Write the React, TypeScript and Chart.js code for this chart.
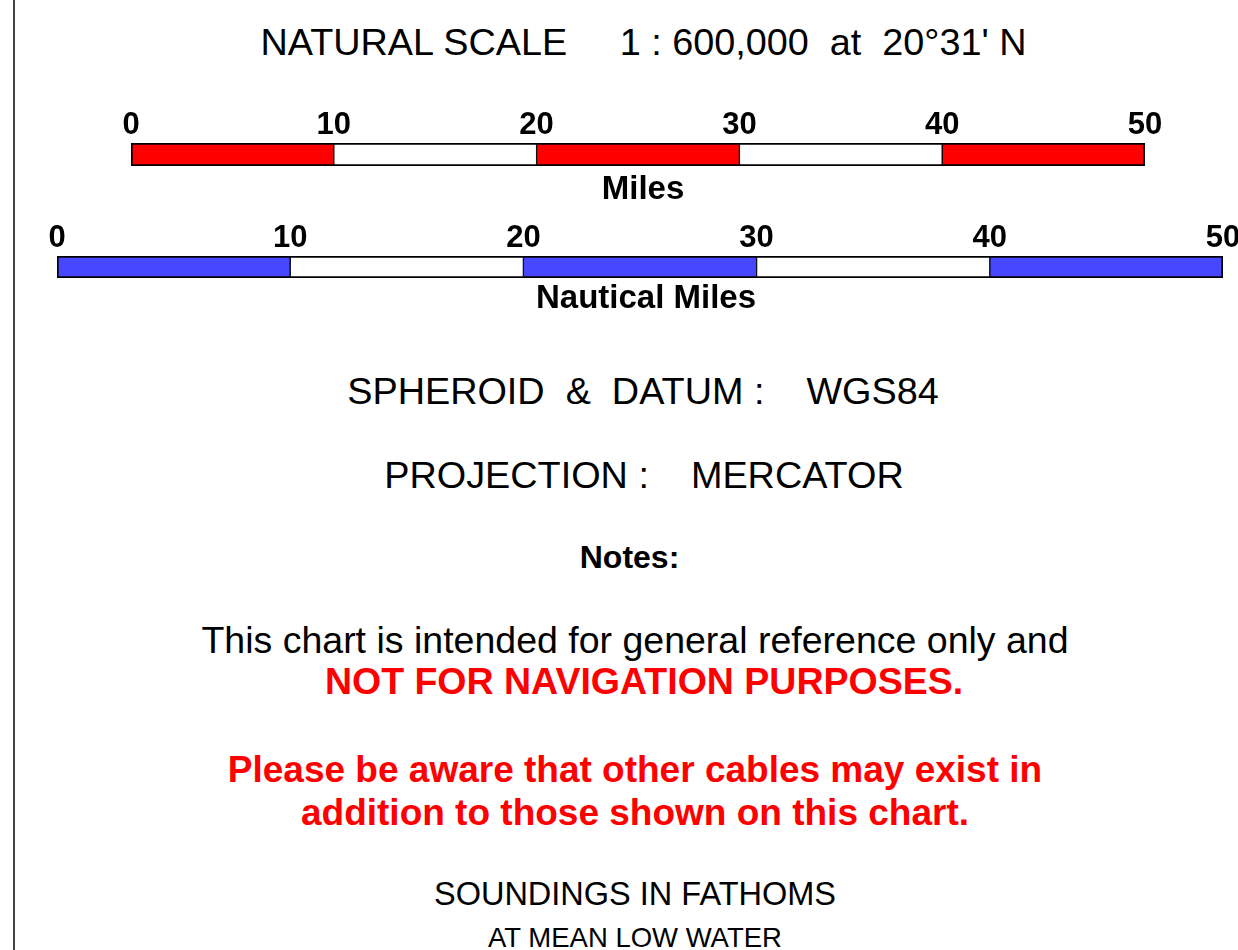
import React, { useEffect, useRef } from "react";
import { Chart, registerables } from "chart.js";

Chart.register(...registerables);

const FONT = '"Liberation Sans", Arial, Helvetica, sans-serif';

// ---- data ----
const scaleTitle = "NATURAL SCALE     1 : 600,000  at  20°31' N";
const mileTicks = [0, 10, 20, 30, 40, 50];
const mileSegments = [10, 10, 10, 10, 10];
const mileColors = ["#ff0000", "#ffffff", "#ff0000", "#ffffff", "#ff0000"];
const nauticalTicks = [0, 10, 20, 30, 40, 50];
const nauticalSegments = [10, 10, 10, 10, 10];
const nauticalColors = ["#4747ff", "#ffffff", "#4747ff", "#ffffff", "#4747ff"];
const datumText = "SPHEROID  &  DATUM :    WGS84";
const projectionText = "PROJECTION :    MERCATOR";
const notesTitle = "Notes:";
const notesLine1 = "This chart is intended for general reference only and";
const notesLine2 = "NOT FOR NAVIGATION PURPOSES.";
const warnLine1 = "Please be aware that other cables may exist in";
const warnLine2 = "addition to those shown on this chart.";
const soundings1 = "SOUNDINGS IN FATHOMS";
const soundings2 = "AT MEAN LOW WATER";

type BarProps = {
  label: string;
  ticks: number[];
  segments: number[];
  colors: string[];
  left: number;
  top: number;
  width: number;
  height: number;
  pad: { left: number; right: number; top: number; bottom: number };
  tickPad: number;
  titlePadTop: number;
  gutter: number;
};

function ScaleBar(p: BarProps) {
  const ref = useRef<HTMLCanvasElement | null>(null);
  useEffect(() => {
    if (!ref.current) return;
    const n = p.segments.length;
    const chart = new Chart(ref.current, {
      type: "bar",
      data: {
        labels: [p.label],
        datasets: p.segments.map((v, i) => ({
          label: p.label + " " + i,
          data: [v],
          backgroundColor: p.colors[i],
          borderColor: "#000000",
          borderWidth: {
            top: 2,
            bottom: 2,
            left: i === 0 ? 2 : 1,
            right: i === n - 1 ? 2 : 1,
          },
          borderSkipped: false,
          barPercentage: 1,
          categoryPercentage: 1,
        })),
      },
      options: {
        indexAxis: "y",
        responsive: false,
        animation: false,
        events: [],
        layout: { padding: p.pad },
        plugins: {
          legend: { display: false },
          tooltip: { enabled: false },
          title: {
            display: true,
            position: "bottom",
            text: p.label,
            color: "#000000",
            font: { family: FONT, size: 33, weight: "bold", lineHeight: 1.2 },
            padding: { top: p.titlePadTop, bottom: 0 },
          },
        },
        scales: {
          x: {
            type: "linear",
            position: "top",
            stacked: true,
            min: p.ticks[0],
            max: p.ticks[p.ticks.length - 1],
            grid: { display: false, drawTicks: false },
            border: { display: false },
            ticks: {
              color: "#000000",
              font: { family: FONT, size: 31, weight: "bold", lineHeight: 1.2 },
              padding: p.tickPad,
              autoSkip: false,
              maxRotation: 0,
              minRotation: 0,
            },
            afterBuildTicks: (s: any) => {
              s.ticks = p.ticks.map((v) => ({ value: v }));
            },
          },
          y: {
            type: "category",
            position: "right",
            stacked: true,
            grid: { display: false, drawTicks: false },
            border: { display: false },
            ticks: { display: false },
            afterFit: (s: any) => {
              s.width = p.gutter;
            },
          },
        },
      } as any,
    });
    return () => chart.destroy();
  }, []);
  return (
    <canvas
      ref={ref}
      width={p.width}
      height={p.height}
      style={{
        position: "absolute",
        left: p.left,
        top: p.top,
        width: p.width,
        height: p.height,
      }}
    />
  );
}

function Line(props: {
  text: string;
  cx: number;
  cy: number;
  size: number;
  bold?: boolean;
  color?: string;
}) {
  const { text, cx, cy, size, bold, color } = props;
  return (
    <div
      style={{
        position: "absolute",
        left: cx - 620,
        width: 1240,
        top: cy - 0.4885 * size,
        textAlign: "center",
        whiteSpace: "pre",
        fontFamily: FONT,
        fontSize: size,
        lineHeight: `${size}px`,
        fontWeight: bold ? "bold" : "normal",
        color: color || "#000000",
      }}
    >
      {text}
    </div>
  );
}

export default function App() {
  return (
    <div
      style={{
        position: "absolute",
        left: 0,
        top: 0,
        width: 1238,
        height: 950,
        overflow: "hidden",
        background: "#ffffff",
      }}
    >
      <div
        style={{
          position: "absolute",
          left: 13,
          top: 0,
          width: 2,
          height: 950,
          background: "#444444",
        }}
      />
      <Line text={scaleTitle} cx={643.5} cy={42} size={37.8} />
      <ScaleBar
        label="Miles"
        ticks={mileTicks}
        segments={mileSegments}
        colors={mileColors}
        left={48}
        top={100}
        width={1190}
        height={111}
        pad={{ left: 83, right: 83, top: 8.8, bottom: 1.7 }}
        tickPad={-1.5}
        titlePadTop={3.7}
        gutter={10}
      />
      <ScaleBar
        label="Nautical Miles"
        ticks={nauticalTicks}
        segments={nauticalSegments}
        colors={nauticalColors}
        left={37}
        top={214}
        width={1218}
        height={106}
        pad={{ left: 20, right: 20, top: 7.8, bottom: 1.7 }}
        tickPad={-1.5}
        titlePadTop={0.7}
        gutter={12}
      />
      <Line text={datumText} cx={643} cy={391.5} size={37.8} />
      <Line text={projectionText} cx={644} cy={475} size={37.8} />
      <Line text={notesTitle} cx={629.5} cy={556.5} size={32} bold />
      <Line text={notesLine1} cx={635} cy={640} size={37.5} />
      <Line text={notesLine2} cx={644} cy={681} size={37.5} bold color="#ff0000" />
      <Line text={warnLine1} cx={635} cy={769} size={37} bold color="#ff0000" />
      <Line text={warnLine2} cx={635} cy={812} size={37} bold color="#ff0000" />
      <Line text={soundings1} cx={635} cy={893.5} size={32.5} />
      <Line text={soundings2} cx={635} cy={937.5} size={27.5} />
    </div>
  );
}
